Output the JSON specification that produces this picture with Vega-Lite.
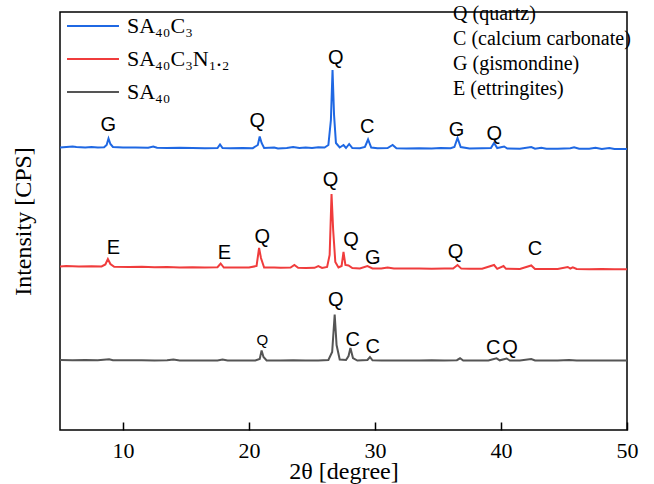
{
  "$schema": "https://vega.github.io/schema/vega-lite/v6.json",
  "width": 567,
  "height": 418,
  "autosize": {"type": "none"},
  "padding": {"left": 60, "top": 12, "right": 27, "bottom": 54},
  "config": {
    "view": {"stroke": "#000", "strokeWidth": 1.5},
    "axis": {"grid": false, "domain": false}
  },
  "datasets": {
    "xrd": [
      {"sample": "SA₄₀C₃", "theta": 5.0, "intensity": 2825},
      {"sample": "SA₄₀C₃", "theta": 5.5, "intensity": 2830},
      {"sample": "SA₄₀C₃", "theta": 6.0, "intensity": 2835},
      {"sample": "SA₄₀C₃", "theta": 6.3, "intensity": 2830},
      {"sample": "SA₄₀C₃", "theta": 7.0, "intensity": 2825},
      {"sample": "SA₄₀C₃", "theta": 7.5, "intensity": 2830},
      {"sample": "SA₄₀C₃", "theta": 8.0, "intensity": 2825},
      {"sample": "SA₄₀C₃", "theta": 8.5, "intensity": 2827},
      {"sample": "SA₄₀C₃", "theta": 8.7, "intensity": 2850},
      {"sample": "SA₄₀C₃", "theta": 8.85, "intensity": 2915},
      {"sample": "SA₄₀C₃", "theta": 9.0, "intensity": 2860},
      {"sample": "SA₄₀C₃", "theta": 9.2, "intensity": 2830},
      {"sample": "SA₄₀C₃", "theta": 10.0, "intensity": 2825},
      {"sample": "SA₄₀C₃", "theta": 11.0, "intensity": 2825},
      {"sample": "SA₄₀C₃", "theta": 12.0, "intensity": 2823},
      {"sample": "SA₄₀C₃", "theta": 12.4, "intensity": 2835},
      {"sample": "SA₄₀C₃", "theta": 12.7, "intensity": 2822},
      {"sample": "SA₄₀C₃", "theta": 13.5, "intensity": 2820},
      {"sample": "SA₄₀C₃", "theta": 14.5, "intensity": 2822},
      {"sample": "SA₄₀C₃", "theta": 15.5, "intensity": 2820},
      {"sample": "SA₄₀C₃", "theta": 16.5, "intensity": 2818},
      {"sample": "SA₄₀C₃", "theta": 17.5, "intensity": 2820},
      {"sample": "SA₄₀C₃", "theta": 17.7, "intensity": 2855},
      {"sample": "SA₄₀C₃", "theta": 17.9, "intensity": 2820},
      {"sample": "SA₄₀C₃", "theta": 18.5, "intensity": 2818},
      {"sample": "SA₄₀C₃", "theta": 19.5, "intensity": 2820},
      {"sample": "SA₄₀C₃", "theta": 20.3, "intensity": 2818},
      {"sample": "SA₄₀C₃", "theta": 20.7, "intensity": 2850},
      {"sample": "SA₄₀C₃", "theta": 20.85, "intensity": 2935},
      {"sample": "SA₄₀C₃", "theta": 21.0, "intensity": 2870},
      {"sample": "SA₄₀C₃", "theta": 21.2, "intensity": 2820},
      {"sample": "SA₄₀C₃", "theta": 22.0, "intensity": 2825},
      {"sample": "SA₄₀C₃", "theta": 22.3, "intensity": 2815},
      {"sample": "SA₄₀C₃", "theta": 23.0, "intensity": 2820},
      {"sample": "SA₄₀C₃", "theta": 23.5, "intensity": 2830},
      {"sample": "SA₄₀C₃", "theta": 24.0, "intensity": 2820},
      {"sample": "SA₄₀C₃", "theta": 24.5, "intensity": 2825},
      {"sample": "SA₄₀C₃", "theta": 25.0, "intensity": 2820},
      {"sample": "SA₄₀C₃", "theta": 25.5, "intensity": 2828},
      {"sample": "SA₄₀C₃", "theta": 26.0, "intensity": 2825},
      {"sample": "SA₄₀C₃", "theta": 26.3, "intensity": 2850},
      {"sample": "SA₄₀C₃", "theta": 26.5, "intensity": 3100},
      {"sample": "SA₄₀C₃", "theta": 26.63, "intensity": 3600},
      {"sample": "SA₄₀C₃", "theta": 26.75, "intensity": 3150},
      {"sample": "SA₄₀C₃", "theta": 26.9, "intensity": 2870},
      {"sample": "SA₄₀C₃", "theta": 27.2, "intensity": 2825},
      {"sample": "SA₄₀C₃", "theta": 27.5, "intensity": 2850},
      {"sample": "SA₄₀C₃", "theta": 27.7, "intensity": 2820},
      {"sample": "SA₄₀C₃", "theta": 27.95, "intensity": 2860},
      {"sample": "SA₄₀C₃", "theta": 28.2, "intensity": 2820},
      {"sample": "SA₄₀C₃", "theta": 28.8, "intensity": 2818},
      {"sample": "SA₄₀C₃", "theta": 29.2, "intensity": 2830},
      {"sample": "SA₄₀C₃", "theta": 29.45, "intensity": 2905},
      {"sample": "SA₄₀C₃", "theta": 29.7, "intensity": 2825},
      {"sample": "SA₄₀C₃", "theta": 30.2, "intensity": 2817},
      {"sample": "SA₄₀C₃", "theta": 31.0, "intensity": 2820},
      {"sample": "SA₄₀C₃", "theta": 31.4, "intensity": 2850},
      {"sample": "SA₄₀C₃", "theta": 31.7, "intensity": 2817},
      {"sample": "SA₄₀C₃", "theta": 32.5, "intensity": 2815},
      {"sample": "SA₄₀C₃", "theta": 33.5, "intensity": 2817},
      {"sample": "SA₄₀C₃", "theta": 34.5, "intensity": 2815},
      {"sample": "SA₄₀C₃", "theta": 35.2, "intensity": 2820},
      {"sample": "SA₄₀C₃", "theta": 36.0, "intensity": 2817},
      {"sample": "SA₄₀C₃", "theta": 36.3, "intensity": 2830},
      {"sample": "SA₄₀C₃", "theta": 36.55, "intensity": 2920},
      {"sample": "SA₄₀C₃", "theta": 36.8, "intensity": 2830},
      {"sample": "SA₄₀C₃", "theta": 37.5, "intensity": 2815},
      {"sample": "SA₄₀C₃", "theta": 38.5, "intensity": 2817},
      {"sample": "SA₄₀C₃", "theta": 39.2, "intensity": 2820},
      {"sample": "SA₄₀C₃", "theta": 39.45, "intensity": 2870},
      {"sample": "SA₄₀C₃", "theta": 39.7, "intensity": 2820},
      {"sample": "SA₄₀C₃", "theta": 40.25, "intensity": 2835},
      {"sample": "SA₄₀C₃", "theta": 40.5, "intensity": 2815},
      {"sample": "SA₄₀C₃", "theta": 41.5, "intensity": 2813},
      {"sample": "SA₄₀C₃", "theta": 42.4, "intensity": 2830},
      {"sample": "SA₄₀C₃", "theta": 42.7, "intensity": 2813},
      {"sample": "SA₄₀C₃", "theta": 43.2, "intensity": 2822},
      {"sample": "SA₄₀C₃", "theta": 43.6, "intensity": 2813},
      {"sample": "SA₄₀C₃", "theta": 44.5, "intensity": 2812},
      {"sample": "SA₄₀C₃", "theta": 45.5, "intensity": 2818},
      {"sample": "SA₄₀C₃", "theta": 45.8, "intensity": 2828},
      {"sample": "SA₄₀C₃", "theta": 46.2, "intensity": 2812},
      {"sample": "SA₄₀C₃", "theta": 47.0, "intensity": 2812},
      {"sample": "SA₄₀C₃", "theta": 47.5, "intensity": 2822},
      {"sample": "SA₄₀C₃", "theta": 48.0, "intensity": 2810},
      {"sample": "SA₄₀C₃", "theta": 48.6, "intensity": 2820},
      {"sample": "SA₄₀C₃", "theta": 49.0, "intensity": 2810},
      {"sample": "SA₄₀C₃", "theta": 50.0, "intensity": 2810},

      {"sample": "SA₄₀C₃N₁.₂", "theta": 5.0, "intensity": 1635},
      {"sample": "SA₄₀C₃N₁.₂", "theta": 5.5, "intensity": 1640},
      {"sample": "SA₄₀C₃N₁.₂", "theta": 6.5, "intensity": 1635},
      {"sample": "SA₄₀C₃N₁.₂", "theta": 7.5, "intensity": 1637},
      {"sample": "SA₄₀C₃N₁.₂", "theta": 8.3, "intensity": 1635},
      {"sample": "SA₄₀C₃N₁.₂", "theta": 8.6, "intensity": 1655},
      {"sample": "SA₄₀C₃N₁.₂", "theta": 8.8, "intensity": 1710},
      {"sample": "SA₄₀C₃N₁.₂", "theta": 9.0, "intensity": 1660},
      {"sample": "SA₄₀C₃N₁.₂", "theta": 9.3, "intensity": 1632},
      {"sample": "SA₄₀C₃N₁.₂", "theta": 10.5, "intensity": 1630},
      {"sample": "SA₄₀C₃N₁.₂", "theta": 11.5, "intensity": 1632},
      {"sample": "SA₄₀C₃N₁.₂", "theta": 12.5, "intensity": 1628},
      {"sample": "SA₄₀C₃N₁.₂", "theta": 13.5, "intensity": 1630},
      {"sample": "SA₄₀C₃N₁.₂", "theta": 14.5, "intensity": 1625},
      {"sample": "SA₄₀C₃N₁.₂", "theta": 15.5, "intensity": 1628},
      {"sample": "SA₄₀C₃N₁.₂", "theta": 16.5, "intensity": 1625},
      {"sample": "SA₄₀C₃N₁.₂", "theta": 17.5, "intensity": 1628},
      {"sample": "SA₄₀C₃N₁.₂", "theta": 17.75, "intensity": 1665},
      {"sample": "SA₄₀C₃N₁.₂", "theta": 18.0, "intensity": 1625},
      {"sample": "SA₄₀C₃N₁.₂", "theta": 19.0, "intensity": 1625},
      {"sample": "SA₄₀C₃N₁.₂", "theta": 20.0, "intensity": 1625},
      {"sample": "SA₄₀C₃N₁.₂", "theta": 20.6, "intensity": 1640},
      {"sample": "SA₄₀C₃N₁.₂", "theta": 20.8, "intensity": 1820},
      {"sample": "SA₄₀C₃N₁.₂", "theta": 20.95, "intensity": 1720},
      {"sample": "SA₄₀C₃N₁.₂", "theta": 21.2, "intensity": 1625},
      {"sample": "SA₄₀C₃N₁.₂", "theta": 22.0, "intensity": 1625},
      {"sample": "SA₄₀C₃N₁.₂", "theta": 22.5, "intensity": 1622},
      {"sample": "SA₄₀C₃N₁.₂", "theta": 23.3, "intensity": 1625},
      {"sample": "SA₄₀C₃N₁.₂", "theta": 23.6, "intensity": 1650},
      {"sample": "SA₄₀C₃N₁.₂", "theta": 23.9, "intensity": 1622},
      {"sample": "SA₄₀C₃N₁.₂", "theta": 24.5, "intensity": 1620},
      {"sample": "SA₄₀C₃N₁.₂", "theta": 25.2, "intensity": 1622},
      {"sample": "SA₄₀C₃N₁.₂", "theta": 25.5, "intensity": 1640},
      {"sample": "SA₄₀C₃N₁.₂", "theta": 25.8, "intensity": 1620},
      {"sample": "SA₄₀C₃N₁.₂", "theta": 26.2, "intensity": 1630},
      {"sample": "SA₄₀C₃N₁.₂", "theta": 26.4, "intensity": 1750},
      {"sample": "SA₄₀C₃N₁.₂", "theta": 26.55, "intensity": 2360},
      {"sample": "SA₄₀C₃N₁.₂", "theta": 26.68, "intensity": 2000},
      {"sample": "SA₄₀C₃N₁.₂", "theta": 26.85, "intensity": 1680},
      {"sample": "SA₄₀C₃N₁.₂", "theta": 27.1, "intensity": 1625},
      {"sample": "SA₄₀C₃N₁.₂", "theta": 27.35, "intensity": 1640},
      {"sample": "SA₄₀C₃N₁.₂", "theta": 27.5, "intensity": 1780},
      {"sample": "SA₄₀C₃N₁.₂", "theta": 27.65, "intensity": 1650},
      {"sample": "SA₄₀C₃N₁.₂", "theta": 27.9, "intensity": 1645},
      {"sample": "SA₄₀C₃N₁.₂", "theta": 28.2, "intensity": 1620},
      {"sample": "SA₄₀C₃N₁.₂", "theta": 28.8, "intensity": 1615},
      {"sample": "SA₄₀C₃N₁.₂", "theta": 29.4, "intensity": 1640},
      {"sample": "SA₄₀C₃N₁.₂", "theta": 29.8, "intensity": 1615},
      {"sample": "SA₄₀C₃N₁.₂", "theta": 30.5, "intensity": 1615},
      {"sample": "SA₄₀C₃N₁.₂", "theta": 31.0, "intensity": 1625},
      {"sample": "SA₄₀C₃N₁.₂", "theta": 31.5, "intensity": 1615},
      {"sample": "SA₄₀C₃N₁.₂", "theta": 32.5, "intensity": 1614},
      {"sample": "SA₄₀C₃N₁.₂", "theta": 33.5, "intensity": 1615},
      {"sample": "SA₄₀C₃N₁.₂", "theta": 34.5, "intensity": 1613},
      {"sample": "SA₄₀C₃N₁.₂", "theta": 35.5, "intensity": 1615},
      {"sample": "SA₄₀C₃N₁.₂", "theta": 36.2, "intensity": 1614},
      {"sample": "SA₄₀C₃N₁.₂", "theta": 36.55, "intensity": 1650},
      {"sample": "SA₄₀C₃N₁.₂", "theta": 36.85, "intensity": 1614},
      {"sample": "SA₄₀C₃N₁.₂", "theta": 37.5, "intensity": 1612},
      {"sample": "SA₄₀C₃N₁.₂", "theta": 38.5, "intensity": 1613},
      {"sample": "SA₄₀C₃N₁.₂", "theta": 39.45, "intensity": 1650},
      {"sample": "SA₄₀C₃N₁.₂", "theta": 39.7, "intensity": 1612},
      {"sample": "SA₄₀C₃N₁.₂", "theta": 40.2, "intensity": 1640},
      {"sample": "SA₄₀C₃N₁.₂", "theta": 40.4, "intensity": 1612},
      {"sample": "SA₄₀C₃N₁.₂", "theta": 41.5, "intensity": 1610},
      {"sample": "SA₄₀C₃N₁.₂", "theta": 42.4, "intensity": 1645},
      {"sample": "SA₄₀C₃N₁.₂", "theta": 42.7, "intensity": 1610},
      {"sample": "SA₄₀C₃N₁.₂", "theta": 43.5, "intensity": 1610},
      {"sample": "SA₄₀C₃N₁.₂", "theta": 44.5, "intensity": 1610},
      {"sample": "SA₄₀C₃N₁.₂", "theta": 45.3, "intensity": 1630},
      {"sample": "SA₄₀C₃N₁.₂", "theta": 45.5, "intensity": 1615},
      {"sample": "SA₄₀C₃N₁.₂", "theta": 45.7, "intensity": 1627},
      {"sample": "SA₄₀C₃N₁.₂", "theta": 46.0, "intensity": 1610},
      {"sample": "SA₄₀C₃N₁.₂", "theta": 47.0, "intensity": 1608},
      {"sample": "SA₄₀C₃N₁.₂", "theta": 48.0, "intensity": 1610},
      {"sample": "SA₄₀C₃N₁.₂", "theta": 49.0, "intensity": 1608},
      {"sample": "SA₄₀C₃N₁.₂", "theta": 50.0, "intensity": 1608},

      {"sample": "SA₄₀", "theta": 5.0, "intensity": 700},
      {"sample": "SA₄₀", "theta": 6.0, "intensity": 698},
      {"sample": "SA₄₀", "theta": 7.0, "intensity": 700},
      {"sample": "SA₄₀", "theta": 8.0, "intensity": 698},
      {"sample": "SA₄₀", "theta": 8.9, "intensity": 707},
      {"sample": "SA₄₀", "theta": 9.2, "intensity": 697},
      {"sample": "SA₄₀", "theta": 10.5, "intensity": 697},
      {"sample": "SA₄₀", "theta": 11.5, "intensity": 698},
      {"sample": "SA₄₀", "theta": 12.5, "intensity": 695},
      {"sample": "SA₄₀", "theta": 13.5, "intensity": 697},
      {"sample": "SA₄₀", "theta": 14.0, "intensity": 704},
      {"sample": "SA₄₀", "theta": 14.5, "intensity": 695},
      {"sample": "SA₄₀", "theta": 15.5, "intensity": 696},
      {"sample": "SA₄₀", "theta": 16.5, "intensity": 695},
      {"sample": "SA₄₀", "theta": 17.5, "intensity": 696},
      {"sample": "SA₄₀", "theta": 17.9, "intensity": 704},
      {"sample": "SA₄₀", "theta": 18.3, "intensity": 695},
      {"sample": "SA₄₀", "theta": 19.5, "intensity": 695},
      {"sample": "SA₄₀", "theta": 20.5, "intensity": 696},
      {"sample": "SA₄₀", "theta": 20.85, "intensity": 710},
      {"sample": "SA₄₀", "theta": 21.0, "intensity": 795},
      {"sample": "SA₄₀", "theta": 21.15, "intensity": 730},
      {"sample": "SA₄₀", "theta": 21.4, "intensity": 695},
      {"sample": "SA₄₀", "theta": 22.5, "intensity": 695},
      {"sample": "SA₄₀", "theta": 23.5, "intensity": 697},
      {"sample": "SA₄₀", "theta": 24.5, "intensity": 695},
      {"sample": "SA₄₀", "theta": 25.5, "intensity": 695},
      {"sample": "SA₄₀", "theta": 26.3, "intensity": 700},
      {"sample": "SA₄₀", "theta": 26.6, "intensity": 780},
      {"sample": "SA₄₀", "theta": 26.8, "intensity": 1155},
      {"sample": "SA₄₀", "theta": 26.95, "intensity": 850},
      {"sample": "SA₄₀", "theta": 27.2, "intensity": 705},
      {"sample": "SA₄₀", "theta": 27.7, "intensity": 700},
      {"sample": "SA₄₀", "theta": 27.9, "intensity": 740},
      {"sample": "SA₄₀", "theta": 28.05, "intensity": 820},
      {"sample": "SA₄₀", "theta": 28.25, "intensity": 720},
      {"sample": "SA₄₀", "theta": 28.6, "intensity": 695},
      {"sample": "SA₄₀", "theta": 29.4, "intensity": 700},
      {"sample": "SA₄₀", "theta": 29.6, "intensity": 730},
      {"sample": "SA₄₀", "theta": 29.8, "intensity": 697},
      {"sample": "SA₄₀", "theta": 30.5, "intensity": 695},
      {"sample": "SA₄₀", "theta": 31.5, "intensity": 695},
      {"sample": "SA₄₀", "theta": 32.5, "intensity": 695},
      {"sample": "SA₄₀", "theta": 33.5, "intensity": 695},
      {"sample": "SA₄₀", "theta": 34.5, "intensity": 697},
      {"sample": "SA₄₀", "theta": 35.5, "intensity": 695},
      {"sample": "SA₄₀", "theta": 36.5, "intensity": 698},
      {"sample": "SA₄₀", "theta": 36.75, "intensity": 717},
      {"sample": "SA₄₀", "theta": 37.0, "intensity": 695},
      {"sample": "SA₄₀", "theta": 38.0, "intensity": 695},
      {"sample": "SA₄₀", "theta": 39.0, "intensity": 695},
      {"sample": "SA₄₀", "theta": 39.65, "intensity": 717},
      {"sample": "SA₄₀", "theta": 39.9, "intensity": 697},
      {"sample": "SA₄₀", "theta": 40.45, "intensity": 715},
      {"sample": "SA₄₀", "theta": 40.7, "intensity": 695},
      {"sample": "SA₄₀", "theta": 41.5, "intensity": 695},
      {"sample": "SA₄₀", "theta": 42.4, "intensity": 710},
      {"sample": "SA₄₀", "theta": 42.7, "intensity": 695},
      {"sample": "SA₄₀", "theta": 43.5, "intensity": 695},
      {"sample": "SA₄₀", "theta": 44.5, "intensity": 694},
      {"sample": "SA₄₀", "theta": 45.4, "intensity": 700},
      {"sample": "SA₄₀", "theta": 46.0, "intensity": 694},
      {"sample": "SA₄₀", "theta": 47.0, "intensity": 694},
      {"sample": "SA₄₀", "theta": 48.0, "intensity": 694},
      {"sample": "SA₄₀", "theta": 49.0, "intensity": 694},
      {"sample": "SA₄₀", "theta": 50.0, "intensity": 694}
    ],
    "peaks": [
      {"label": "G", "theta": 8.83, "intensity": 3050},
      {"label": "Q", "theta": 20.66, "intensity": 3093},
      {"label": "Q", "theta": 26.88, "intensity": 3717},
      {"label": "C", "theta": 29.39, "intensity": 3027},
      {"label": "G", "theta": 36.48, "intensity": 3000},
      {"label": "Q", "theta": 39.47, "intensity": 2960},
      {"label": "E", "theta": 9.23, "intensity": 1817},
      {"label": "E", "theta": 18.04, "intensity": 1767},
      {"label": "Q", "theta": 21.06, "intensity": 1933},
      {"label": "Q", "theta": 26.48, "intensity": 2500},
      {"label": "Q", "theta": 28.1, "intensity": 1900},
      {"label": "G", "theta": 29.82, "intensity": 1717},
      {"label": "Q", "theta": 36.4, "intensity": 1783},
      {"label": "C", "theta": 42.7, "intensity": 1807},
      {"label": "Q", "theta": 26.88, "intensity": 1300},
      {"label": "C", "theta": 28.23, "intensity": 900},
      {"label": "C", "theta": 29.82, "intensity": 833},
      {"label": "C", "theta": 39.39, "intensity": 823},
      {"label": "Q", "theta": 40.71, "intensity": 823}
    ],
    "minorPeaks": [
      {"label": "Q", "theta": 21.06, "intensity": 900}
    ],
    "phases": [
      {"text": "Q (quartz)", "theta": 36.2, "intensity": 4160},
      {"text": "C (calcium carbonate)", "theta": 36.2, "intensity": 3915},
      {"text": "G (gismondine)", "theta": 36.2, "intensity": 3665},
      {"text": "E (ettringites)", "theta": 36.2, "intensity": 3415}
    ]
  },
  "layer": [
    {
      "data": {"name": "xrd"},
      "mark": {"type": "line", "strokeWidth": 2, "clip": true},
      "encoding": {
        "x": {
          "field": "theta", "type": "quantitative",
          "scale": {"domain": [5, 50], "nice": false, "zero": false},
          "axis": {
            "title": "2θ [degree]", "values": [10, 20, 30, 40, 50],
            "tickSize": -8, "tickColor": "#000", "tickWidth": 1.5,
            "labelFont": "Liberation Serif", "labelFontSize": 22, "labelColor": "#000",
            "labelPadding": 18, "labelFlush": false,
            "titleFont": "Liberation Serif", "titleFontSize": 24, "titleFontWeight": "normal",
            "titleColor": "#000", "titlePadding": -2
          }
        },
        "y": {
          "field": "intensity", "type": "quantitative",
          "scale": {"domain": [0, 4180], "nice": false},
          "axis": {
            "title": "Intensity [CPS]", "ticks": false, "labels": false,
            "titleFont": "Liberation Serif", "titleFontSize": 24, "titleFontWeight": "normal",
            "titleColor": "#000", "titlePadding": 25
          }
        },
        "color": {
          "field": "sample", "type": "nominal",
          "scale": {"domain": ["SA₄₀C₃", "SA₄₀C₃N₁.₂", "SA₄₀"], "range": ["#1f68e3", "#f03c3c", "#555555"]},
          "legend": {
            "title": null, "orient": "none", "legendX": 22, "legendY": 3,
            "symbolType": "M-3,0H3", "symbolSize": 300, "symbolStrokeWidth": 2,
            "labelFont": "Liberation Serif", "labelFontSize": 22, "labelColor": "#000",
            "labelOffset": 23, "rowPadding": 11, "padding": 0, "labelLimit": 300
          }
        }
      }
    },
    {
      "data": {"name": "peaks"},
      "mark": {"type": "text", "font": "Liberation Sans", "fontSize": 20, "color": "#000", "baseline": "middle", "align": "center"},
      "encoding": {
        "x": {"field": "theta", "type": "quantitative"},
        "y": {"field": "intensity", "type": "quantitative"},
        "text": {"field": "label"}
      }
    },
    {
      "data": {"name": "minorPeaks"},
      "mark": {"type": "text", "font": "Liberation Sans", "fontSize": 15, "color": "#000", "baseline": "middle", "align": "center"},
      "encoding": {
        "x": {"field": "theta", "type": "quantitative"},
        "y": {"field": "intensity", "type": "quantitative"},
        "text": {"field": "label"}
      }
    },
    {
      "data": {"name": "phases"},
      "mark": {"type": "text", "font": "Liberation Serif", "fontSize": 20, "color": "#000", "baseline": "middle", "align": "left"},
      "encoding": {
        "x": {"field": "theta", "type": "quantitative"},
        "y": {"field": "intensity", "type": "quantitative"},
        "text": {"field": "text"}
      }
    }
  ]
}
